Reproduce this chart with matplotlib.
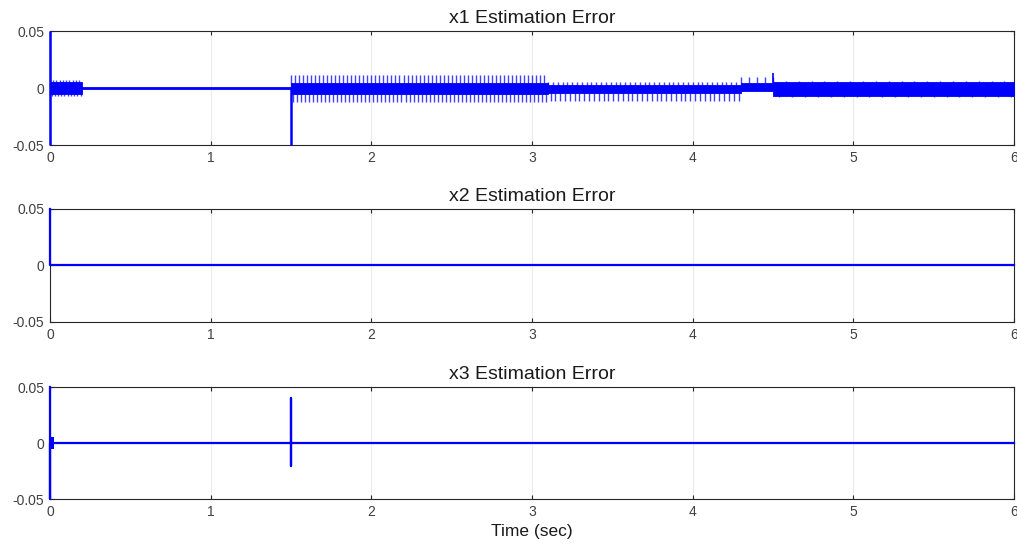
import numpy as np
import matplotlib.pyplot as plt

plt.rcParams['font.family'] = ['Liberation Sans', 'DejaVu Sans']

# x1 估計誤差: 各段的包絡
seg_start = [0.0, 0.20, 1.50, 3.10, 4.30, 4.50]
seg_end = [0.20, 1.50, 3.10, 4.30, 4.50, 6.00]
core_hi = [0.005, 0.0007, 0.004, 0.003, 0.004, 0.005]
core_lo = [-0.005, -0.0007, -0.005, -0.004, -0.003, -0.007]
spike_hi = [0.007, 0.0007, 0.011, 0.005, 0.010, 0.006]
spike_lo = [-0.007, -0.0007, -0.012, -0.011, -0.003, -0.008]
spike_step = [0.02, 0.0, 0.025, 0.03, 0.05, 0.08]
x1_jump_t = [0.0, 1.50]
x1_jump_lo = [-0.05, -0.05]
x1_jump_hi = [0.05, 0.0]
x1_peak_t = [4.50]
x1_peak_v = [0.013]

# x2 估計誤差
x2_t = [0.0, 0.0, 6.0]
x2_v = [0.05, 0.0, 0.0]

# x3 估計誤差
x3_t = [0.0, 0.0, 0.0, 1.5, 1.5, 1.5, 1.5, 6.0]
x3_v = [0.05, -0.05, 0.0, 0.0, 0.040, -0.0205, 0.0, 0.0]
x3_blob_t = [0.0, 0.025]
x3_blob_v = [0.005, -0.005]

titles = ["x1 Estimation Error", "x2 Estimation Error", "x3 Estimation Error"]
blue = (0, 0, 1)

fig = plt.figure(figsize=(10.17, 5.52), dpi=100)
boxes = [[0.0492, 0.7373, 0.9479, 0.2065],
         [0.0492, 0.4167, 0.9479, 0.2047],
         [0.0492, 0.0960, 0.9479, 0.2029]]
axes = [fig.add_axes(b) for b in boxes]

def style(ax, title):
    ax.set_xlim(0, 6)
    ax.set_ylim(-0.05, 0.05)
    ax.set_xticks(range(7))
    ax.set_yticks([-0.05, 0, 0.05])
    ax.set_yticklabels(["-0.05", "0", "0.05"])
    ax.grid(True, color="#ebebeb", linewidth=0.8)
    ax.set_axisbelow(True)
    ax.tick_params(direction="in", length=3, labelsize=10, colors="#262626", labelcolor="#404040",
                   top=True, right=True, labeltop=False, labelright=False, pad=4)
    for s in ax.spines.values():
        s.set_color("#262626")
        s.set_linewidth(0.8)
    ax.set_title(title, fontsize=14, color="#1a1a1a", pad=6)

# x1
ax = axes[0]
style(ax, titles[0])
for i in range(len(seg_start)):
    ax.fill_between([seg_start[i], seg_end[i]], core_lo[i], core_hi[i], color=blue, linewidth=0.6, zorder=3)
    if spike_step[i] > 0:
        ts = np.arange(seg_start[i], seg_end[i], spike_step[i])
        ax.vlines(ts, 0, spike_hi[i], color=blue, linewidth=1.0, alpha=0.75, zorder=3)
        ax.vlines(ts + spike_step[i] / 2, spike_lo[i], 0, color=blue, linewidth=1.0, alpha=0.75, zorder=3)
ax.vlines(x1_jump_t, x1_jump_lo, x1_jump_hi, color=blue, linewidth=1.8, zorder=3, clip_on=False)
ax.vlines(x1_peak_t, 0, x1_peak_v, color=blue, linewidth=1.2, zorder=3)

# x2
ax = axes[1]
style(ax, titles[1])
ax.plot(x2_t, x2_v, color=blue, linewidth=1.6, zorder=3, clip_on=False)

# x3
ax = axes[2]
style(ax, titles[2])
ax.plot(x3_t, x3_v, color=blue, linewidth=1.6, zorder=3, clip_on=False)
ax.fill_between(x3_blob_t, x3_blob_v[1], x3_blob_v[0], color=blue, linewidth=0, zorder=3)
ax.set_xlabel("Time (sec)", fontsize=12.5, color="#1a1a1a", labelpad=4)

fig.savefig("out.png", dpi=100)
